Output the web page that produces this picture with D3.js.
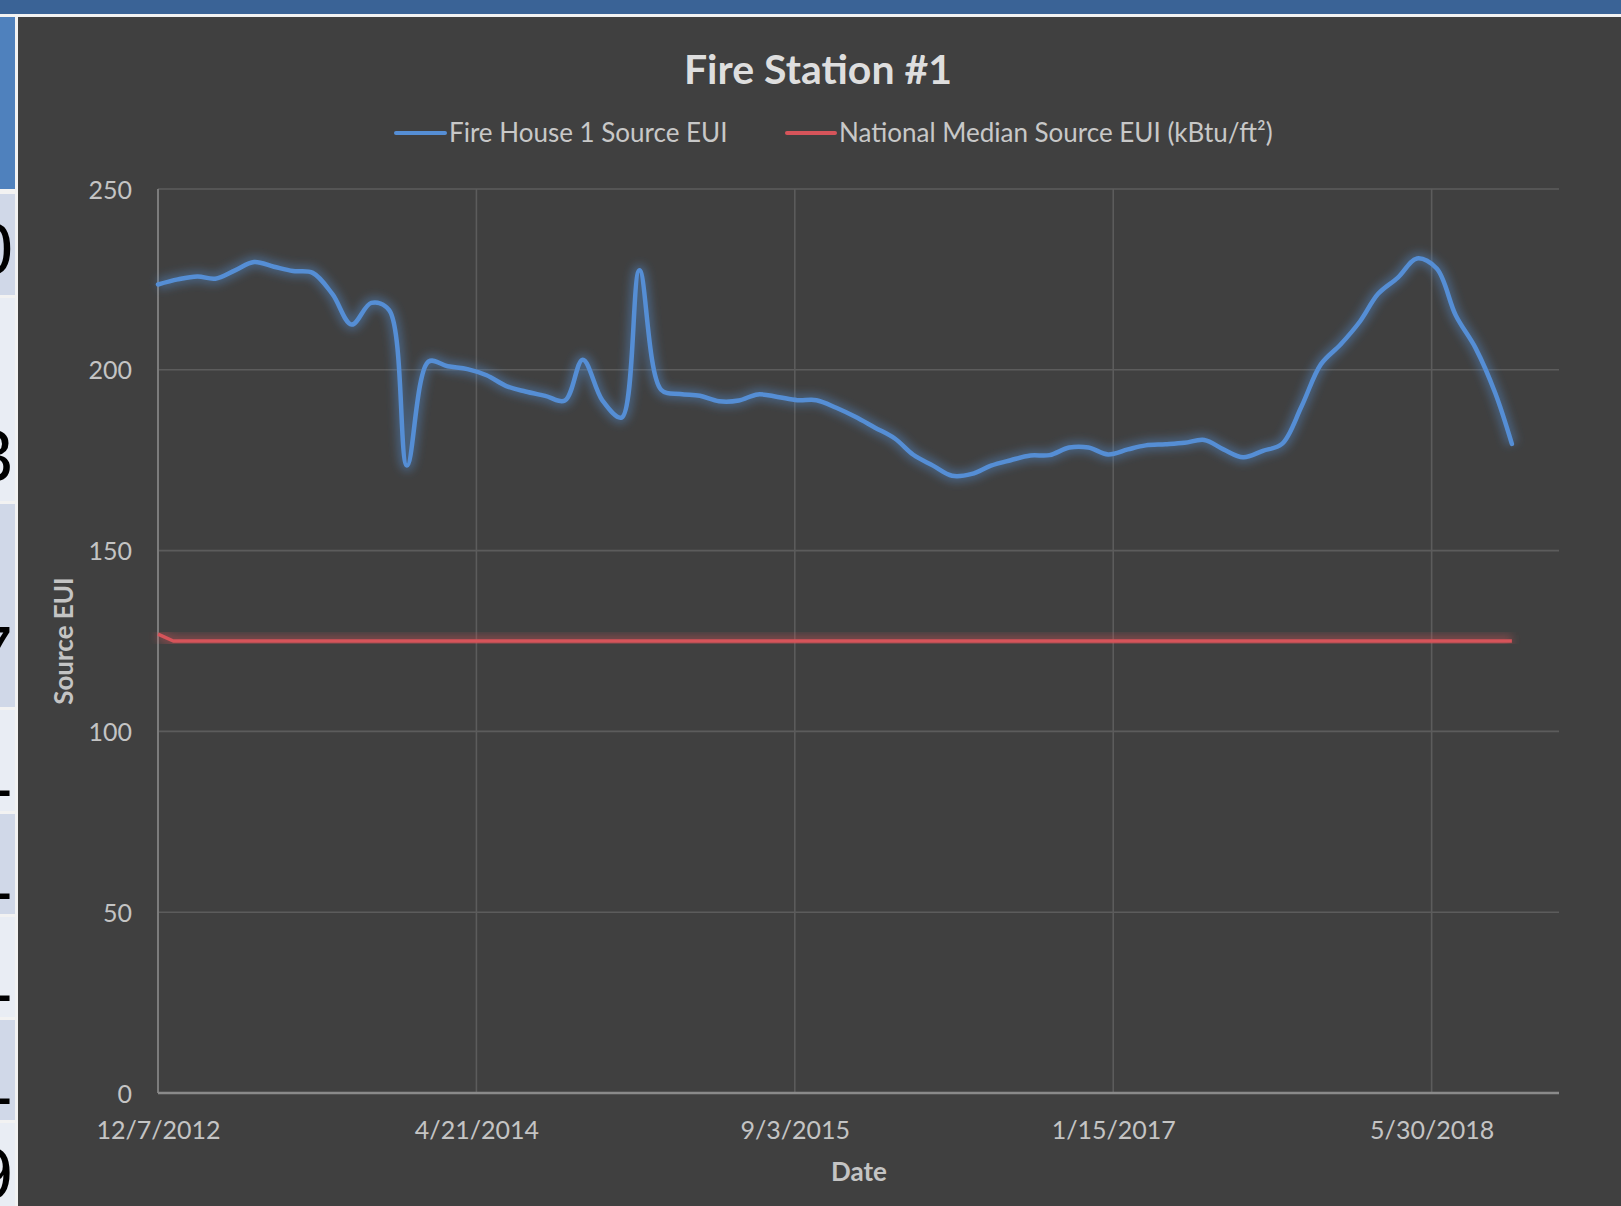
<!DOCTYPE html>
<html>
<head>
<meta charset="utf-8">
<script src="https://cdn.jsdelivr.net/npm/d3@7"></script>
<style>
  html, body { margin: 0; padding: 0; background: #ffffff; }
  svg { display: block; }
  text { font-family: Lato, "Open Sans", sans-serif; }
</style>
</head>
<body>
<svg id="chart" width="1621" height="1206"></svg>
<script>
// ---------------- DATA ----------------
const chartTitle = "Fire Station #1";
const seriesNames = ["Fire House 1 Source EUI", "National Median Source EUI (kBtu/ft²)"];
const yTickValues = [0, 50, 100, 150, 200, 250];
const xTickLabels = ["12/7/2012", "4/21/2014", "9/3/2015", "1/15/2017", "5/30/2018"];

const fireHouseDates = [
  "2012-12-07","2013-01-07","2013-02-07","2013-03-07","2013-04-07","2013-05-07","2013-06-07","2013-07-07",
  "2013-08-07","2013-09-07","2013-10-07","2013-11-07","2013-12-05","2014-01-02","2014-02-05","2014-03-07",
  "2014-04-07","2014-05-07","2014-06-07","2014-07-07","2014-08-07","2014-09-07","2014-10-05","2014-11-05",
  "2014-12-05","2015-01-02","2015-02-05","2015-03-07","2015-04-07","2015-05-07","2015-06-07","2015-07-07",
  "2015-08-07","2015-09-07","2015-10-07","2015-11-07","2015-12-07","2016-01-07","2016-02-07","2016-03-07",
  "2016-04-07","2016-05-07","2016-06-07","2016-07-07","2016-08-07","2016-09-07","2016-10-07","2016-11-07",
  "2016-12-07","2017-01-07","2017-02-07","2017-03-07","2017-04-07","2017-05-07","2017-06-07","2017-07-07",
  "2017-08-07","2017-09-07","2017-10-07","2017-11-07","2017-12-07","2018-01-07","2018-02-07","2018-03-07",
  "2018-04-07","2018-05-07","2018-06-07","2018-07-07","2018-08-07","2018-09-07","2018-10-03"
];
const fireHouseEUI = [
  223.6, 225.0, 225.8, 225.2, 227.5, 229.8, 228.5, 227.3,
  226.8, 220.9, 212.5, 218.5, 216.5, 173.5, 202.3, 201.0,
  200.2, 198.5, 195.5, 194.0, 192.8, 191.5, 202.8, 191.5,
  186.8, 227.5, 194.5, 193.3, 192.8, 191.3, 191.5, 193.2,
  192.5, 191.6, 191.6, 189.5, 187.0, 184.0, 181.0, 176.5,
  173.5, 170.7, 171.2, 173.5, 175.0, 176.3, 176.4, 178.5,
  178.5, 176.6, 178.0, 179.1, 179.4, 179.8, 180.6, 178.0,
  175.8, 177.6, 179.5, 190.0, 201.5, 207.0, 213.5, 221.0,
  225.5, 230.8, 228.0, 215.0, 206.0, 193.5, 179.5
];

const medianDates = ["2012-12-07", "2012-12-31", "2018-10-03"];
const medianEUI = [126.9, 125, 125];

const axisStart = "2012-12-07";
const axisEnd = "2018-12-16";

// background slide table fragments (left edge)
const stripDigits = ["0", "3", "7", "1", "1", "1", "1", "9"];

// ---------------- DRAW ----------------
const parse = d3.utcParse("%Y-%m-%d");
const fmt = d3.utcFormat("%-m/%-d/%Y");
const svg = d3.select("#chart");

const W = 1621, H = 1206;
const plot = { left: 158, right: 1559, top: 189, bottom: 1093 };

// slide background pieces
svg.append("rect").attr("x", 0).attr("y", 0).attr("width", W).attr("height", H).attr("fill", "#f2f2f2");
svg.append("rect").attr("x", 0).attr("y", 0).attr("width", W).attr("height", 14).attr("fill", "#3a6396");

// left strip table
const stripCells = [
  { y0: 17, y1: 189, fill: "#4f81bd" },
  { y0: 194, y1: 295, fill: "#d0d8e8" },
  { y0: 298, y1: 501, fill: "#e9edf4" },
  { y0: 504, y1: 707, fill: "#d0d8e8" },
  { y0: 710, y1: 811, fill: "#e9edf4" },
  { y0: 814, y1: 914, fill: "#d0d8e8" },
  { y0: 917, y1: 1017, fill: "#e9edf4" },
  { y0: 1020, y1: 1120, fill: "#d0d8e8" },
  { y0: 1123, y1: 1206, fill: "#e9edf4" }
];
const stripG = svg.append("g");
stripG.append("clipPath").attr("id", "stripClip").append("rect")
  .attr("x", 0).attr("y", 0).attr("width", 15).attr("height", H);
const sg = stripG.append("g").attr("clip-path", "url(#stripClip)");
sg.selectAll("rect.cell").data(stripCells).join("rect")
  .attr("x", 0).attr("width", 15)
  .attr("y", d => d.y0).attr("height", d => d.y1 - d.y0)
  .attr("fill", d => d.fill);
const digitBase = [274, 481, 677, 796, 899, 1001, 1104, 1199];
sg.selectAll("text.dig").data(stripDigits).join("text")
  .attr("x", 13).attr("y", (d, i) => digitBase[i])
  .attr("text-anchor", "end")
  .attr("font-size", 72)
  .attr("fill", "#000")
  .style("font-family", "'Liberation Sans', Arial, sans-serif")
  .text(d => d);

// chart area
svg.append("rect").attr("x", 18).attr("y", 17).attr("width", W - 18).attr("height", H - 17).attr("fill", "#404040");

const x = d3.scaleUtc().domain([parse(axisStart), parse(axisEnd)]).range([plot.left, plot.right]);
const y = d3.scaleLinear().domain([0, 250]).range([plot.bottom, plot.top]);

const xTicks = xTickLabels.map(s => d3.utcParse("%m/%d/%Y")(s));

// gridlines
const grid = svg.append("g");
grid.selectAll("line.h").data(yTickValues.filter(v => v > 0)).join("line")
  .attr("x1", plot.left).attr("x2", plot.right)
  .attr("y1", d => y(d)).attr("y2", d => y(d))
  .attr("stroke", "#5c5c5c").attr("stroke-width", 1.6);
grid.selectAll("line.v").data(xTicks.slice(1)).join("line")
  .attr("x1", d => x(d)).attr("x2", d => x(d))
  .attr("y1", plot.top).attr("y2", plot.bottom)
  .attr("stroke", "#5c5c5c").attr("stroke-width", 1.6);

// axes lines
svg.append("line").attr("x1", plot.left).attr("x2", plot.left).attr("y1", plot.top).attr("y2", plot.bottom)
  .attr("stroke", "#7c7c7c").attr("stroke-width", 2);
svg.append("line").attr("x1", plot.left).attr("x2", plot.right).attr("y1", plot.bottom).attr("y2", plot.bottom)
  .attr("stroke", "#8a8a8a").attr("stroke-width", 2.5);

// y axis labels
const yAxis = d3.axisLeft(y).tickValues(yTickValues).tickSize(0).tickPadding(26);
const yg = svg.append("g").attr("transform", `translate(${plot.left},0)`).call(yAxis);
yg.select(".domain").remove();
yg.selectAll("text").attr("fill", "#c4c4c4").attr("font-size", 25)
  .style("font-family", "Lato, sans-serif").attr("dy", "0.36em");

// x axis labels
const xAxis = d3.axisBottom(x).tickValues(xTicks).tickFormat(fmt).tickSize(0).tickPadding(0);
const xg = svg.append("g").attr("transform", `translate(0,${plot.bottom})`).call(xAxis);
xg.select(".domain").remove();
xg.selectAll("text").attr("fill", "#c4c4c4").attr("font-size", 25)
  .style("font-family", "Lato, sans-serif").attr("y", 46).attr("dy", 0);

// axis titles
svg.append("text").attr("x", 859).attr("y", 1181).attr("text-anchor", "middle")
  .attr("font-size", 26).attr("font-weight", 700).attr("fill", "#c4c4c4").text("Date");
svg.append("text").attr("transform", "translate(73,641) rotate(-90)").attr("text-anchor", "middle")
  .attr("font-size", 26).attr("font-weight", 700).attr("fill", "#c4c4c4").text("Source EUI");

// title
svg.append("text").attr("x", 818).attr("y", 84).attr("text-anchor", "middle")
  .attr("font-size", 41).attr("font-weight", 700).attr("fill", "#dedede").text(chartTitle);

// filters for glow
const defs = svg.append("defs");
defs.append("filter").attr("id", "blur").attr("x", "-10%").attr("y", "-30%").attr("width", "120%").attr("height", "160%")
  .append("feGaussianBlur").attr("stdDeviation", 4);

// legend
const blue = "#558ed5", red = "#d6545a";
const leg = svg.append("g");
const legItems = [
  { x1: 396, x2: 445, tx: 449, color: blue, name: seriesNames[0] },
  { x1: 787, x2: 835, tx: 839, color: red, name: seriesNames[1] }
];
legItems.forEach(it => {
  leg.append("line").attr("x1", it.x1).attr("x2", it.x2).attr("y1", 133).attr("y2", 133)
    .attr("stroke", it.color).attr("stroke-width", 4).attr("stroke-linecap", "round");
  leg.append("text").attr("x", it.tx).attr("y", 142).attr("font-size", 26)
    .attr("fill", "#c8c8c8").text(it.name);
});

// series
const blueData = fireHouseDates.map((d, i) => ({ date: parse(d), v: fireHouseEUI[i] }));
const redData = medianDates.map((d, i) => ({ date: parse(d), v: medianEUI[i] }));

const lineSmooth = d3.line().x(d => x(d.date)).y(d => y(d.v)).curve(d3.curveCatmullRom.alpha(0.5));
const lineStraight = d3.line().x(d => x(d.date)).y(d => y(d.v));

// red glow + line
svg.append("path").datum(redData).attr("d", lineStraight).attr("fill", "none")
  .attr("stroke", red).attr("stroke-opacity", 0.4).attr("stroke-width", 12).attr("filter", "url(#blur)");
svg.append("path").datum(redData).attr("d", lineStraight).attr("fill", "none")
  .attr("stroke", red).attr("stroke-width", 3.5).attr("stroke-linejoin", "round");

// blue glow + line
svg.append("path").datum(blueData).attr("d", lineSmooth).attr("fill", "none")
  .attr("stroke", blue).attr("stroke-opacity", 0.4).attr("stroke-width", 12).attr("filter", "url(#blur)");
svg.append("path").datum(blueData).attr("d", lineSmooth).attr("fill", "none")
  .attr("stroke", blue).attr("stroke-width", 4.5).attr("stroke-linejoin", "round").attr("stroke-linecap", "round");
</script>
</body>
</html>
